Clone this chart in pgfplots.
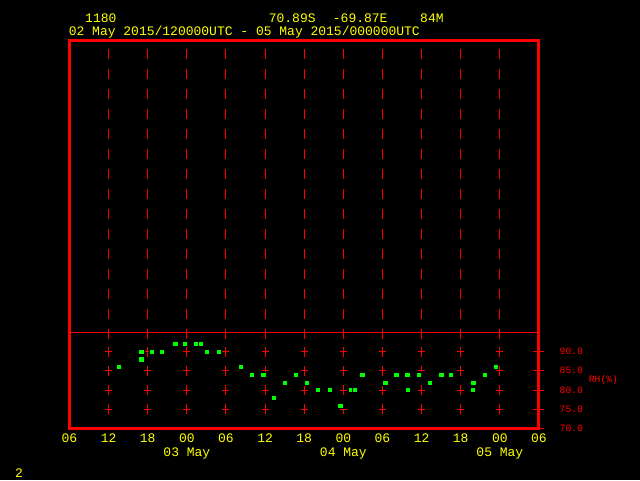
\documentclass[border=0pt]{standalone}
\usepackage{fontspec}
\setmainfont{Liberation Mono}
\usepackage{pgfplots}
\pgfplotsset{compat=1.18}
\definecolor{gyel}{RGB}{255,255,0}
\definecolor{gred}{RGB}{255,0,0}
\definecolor{ggrn}{RGB}{0,255,0}

% RH observations: hours since 02 May 00UTC, RH in %
\pgfplotstableread{
h    rh
13.6 86
17.0 90
17.0 88
18.6 90
20.2 90
22.2 92
23.7 92
25.4 92
26.1 92
27.1 90
28.9 90
32.3 86
34.0 84
35.7 84
37.3 78
39.0 82
40.7 84
42.4 82
44.1 80
45.9 80
47.5 76
49.2 80
49.7 80
50.9 84
54.4 82
56.1 84
57.8 84
57.9 80
59.5 84
61.2 82
63.0 84
64.5 84
67.8 80
67.9 82
69.7 84
71.4 86
}\rhdata

\begin{document}
\begin{tikzpicture}[x=1pt,y=1pt]
\fill[black] (0,0) rectangle (640,480);
\begin{axis}[
  at={(69.5pt,51.5pt)}, anchor=south west,
  scale only axis, width=469.5pt, height=388pt,
  xmin=6, xmax=78, ymin=70, ymax=170.78,
  axis line style={gred, line width=3pt},
  xtick={6,12,18,24,30,36,42,48,54,60,66,72,78},
  xticklabels={06,12,18,{00\\03 May},06,12,18,{00\\04 May},06,12,18,{00\\05 May},06},
  xtick style={draw=none},
  xticklabel style={gyel, font=\fontsize{13}{14}\selectfont, align=center, anchor=north, inner sep=0pt},
  ytick={70,75,80,85,90},
  yticklabels={70.0,75.0,80.0,85.0,90.0},
  ytick pos=right, yticklabel pos=right,
  ytick style={gred, line width=1pt},
  major tick length=11pt, tick align=center,
  yticklabel style={gred, font=\fontsize{9.7}{10}\selectfont, anchor=west, inner sep=0pt, xshift=15pt},
  clip=false,
]
% dashed time lines in the upper panel
\pgfplotsinvokeforeach{12,18,24,30,36,42,48,54,60,66,72}{
  \draw[gred, line width=1pt, dash pattern=on 10pt off 10pt] (axis cs:#1,168.57) -- (axis cs:#1,93.25);
  \addplot[only marks, mark=+, mark size=5pt, gred, mark options={xscale=0.7, line width=1pt}]
    coordinates {(#1,75) (#1,80) (#1,85) (#1,90)};
}
% panel separator
\draw[gred, line width=1.2pt] (axis cs:6,95) -- (axis cs:78,95);

\addplot[only marks, mark=square*, mark size=2.6pt, mark options={draw=none, fill=ggrn}]
  table[x=h, y=rh] {\rhdata};

\node[gred, anchor=west, inner sep=0pt, font=\fontsize{9.7}{10}\selectfont, xshift=49.7pt] at (axis cs:78,82.5) {RH(\%)};
\end{axis}

\begin{scope}[gyel, font=\fontsize{13}{14}\selectfont]
\node[anchor=base west, inner sep=0pt] at (85,457) {1180};
\node[anchor=base west, inner sep=0pt] at (268.6,457) {70.89S};
\node[anchor=base west, inner sep=0pt] at (332.7,457) {-69.87E};
\node[anchor=base west, inner sep=0pt] at (420,457) {84M};
\node[anchor=base west, inner sep=0pt] at (68.6,444) {02 May 2015/120000UTC - 05 May 2015/000000UTC};
\node[anchor=base west, inner sep=0pt] at (15,2.5) {2};
\end{scope}
\pgfresetboundingbox
\path (0,0) rectangle (640,480);
\end{tikzpicture}
\end{document}
